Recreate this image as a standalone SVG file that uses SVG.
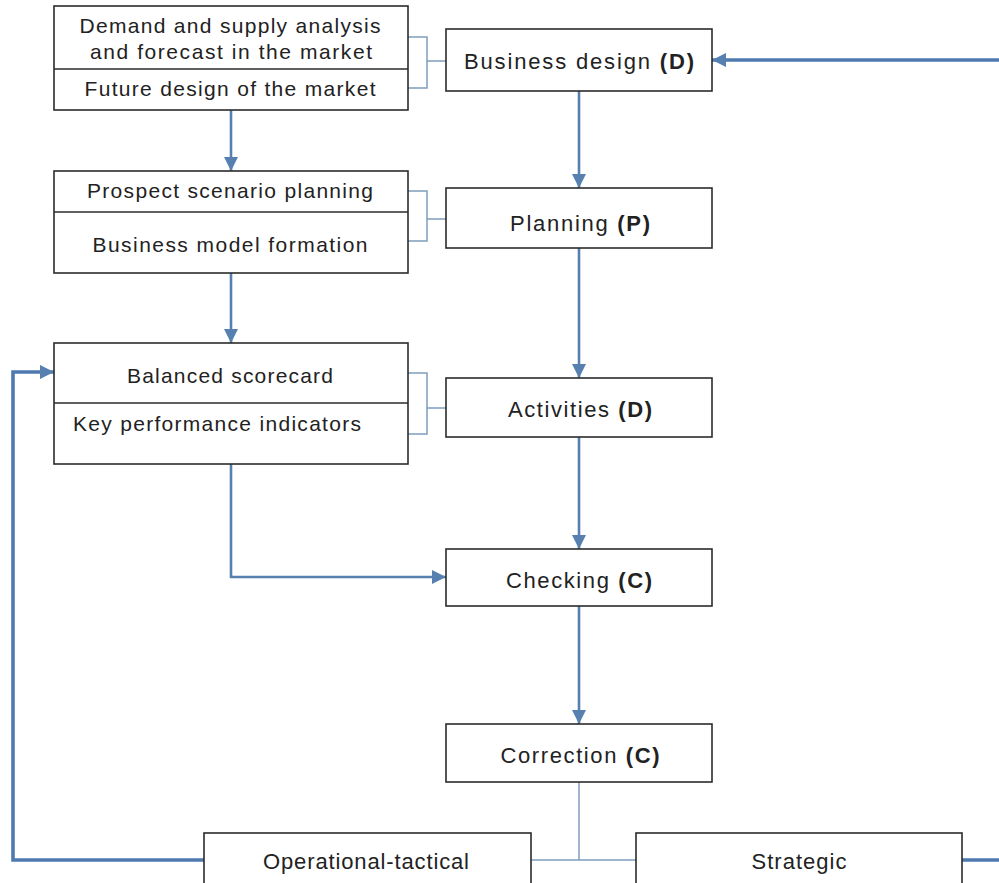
<svg xmlns="http://www.w3.org/2000/svg" width="999" height="883" viewBox="0 0 999 883">
<style>
.box{fill:#fff;stroke:#2b2b2b;stroke-width:1.6}
.div{stroke:#2b2b2b;stroke-width:1.6}
.t{font-family:"Liberation Sans",Arial,sans-serif;font-size:21px;fill:#222;text-anchor:middle}
.n{font-size:22px}
.b{font-weight:bold}
.arr{fill:none;stroke:#5580b0;stroke-width:2.6}
.fb{fill:none;stroke:#4f7ab0;stroke-width:3.6}
.thin{fill:none;stroke:#7e9dbd;stroke-width:1.5}
</style>
<defs>
<marker id="ah" markerUnits="userSpaceOnUse" markerWidth="16" markerHeight="16" refX="14" refY="8" orient="auto">
<path d="M0,1 L14,8 L0,15 z" fill="#5580b0"/>
</marker>
</defs>
<rect width="999" height="883" fill="#fff"/>
<g id="connectors">
<path class="arr" d="M231,110 V171" marker-end="url(#ah)"/>
<path class="arr" d="M231,273 V343" marker-end="url(#ah)"/>
<path class="arr" d="M231,464 V577 H446" marker-end="url(#ah)"/>
<path class="arr" d="M579,91 V188" marker-end="url(#ah)"/>
<path class="arr" d="M579,248 V378" marker-end="url(#ah)"/>
<path class="arr" d="M579,437 V549" marker-end="url(#ah)"/>
<path class="arr" d="M579,606 V724" marker-end="url(#ah)"/>
<path class="thin" d="M579,782 V860 M531,860 H636"/>
<path class="fb" d="M204,860 H13 V372 H54" marker-end="url(#ah)"/>
<path class="fb" d="M962,860 H1002 V60 H712" marker-end="url(#ah)"/>
<path class="thin" d="M408,37 H427 V88 H408 M427,61 H446"/>
<path class="thin" d="M408,191 H427 V241 H408 M427,219 H446"/>
<path class="thin" d="M408,373 H427 V434 H408 M427,408 H446"/>
</g>
<g id="market">
<rect class="box" x="54" y="6" width="354" height="104"/>
<line class="div" x1="54" y1="69" x2="408" y2="69"/>
<text class="t" x="230" y="33" textLength="301" lengthAdjust="spacing">Demand and supply analysis</text>
<text class="t" x="231" y="59" textLength="282" lengthAdjust="spacing">and forecast in the market</text>
<text class="t" x="230" y="96" textLength="291" lengthAdjust="spacing">Future design of the market</text>
</g>
<g id="scenario">
<rect class="box" x="54" y="171" width="354" height="102"/>
<line class="div" x1="54" y1="212" x2="408" y2="212"/>
<text class="t" x="230" y="198" textLength="286" lengthAdjust="spacing">Prospect scenario planning</text>
<text class="t" x="230" y="252" textLength="275" lengthAdjust="spacing">Business model formation</text>
</g>
<g id="scorecard">
<rect class="box" x="54" y="343" width="354" height="121"/>
<line class="div" x1="54" y1="403" x2="408" y2="403"/>
<text class="t" x="230" y="383" textLength="206" lengthAdjust="spacing">Balanced scorecard</text>
<text class="t" x="217" y="431" textLength="288" lengthAdjust="spacing">Key performance indicators</text>
</g>
<g id="business-design">
<rect class="box" x="446" y="29" width="266" height="62"/>
<text class="t n" x="579" y="69" textLength="230" lengthAdjust="spacing">Business design <tspan class="b">(D)</tspan></text>
</g>
<g id="planning">
<rect class="box" x="446" y="188" width="266" height="60"/>
<text class="t n" x="580" y="231" textLength="140" lengthAdjust="spacing">Planning <tspan class="b">(P)</tspan></text>
</g>
<g id="activities">
<rect class="box" x="446" y="378" width="266" height="59"/>
<text class="t n" x="580" y="417" textLength="144" lengthAdjust="spacing">Activities <tspan class="b">(D)</tspan></text>
</g>
<g id="checking">
<rect class="box" x="446" y="549" width="266" height="57"/>
<text class="t n" x="579" y="588" textLength="146" lengthAdjust="spacing">Checking <tspan class="b">(C)</tspan></text>
</g>
<g id="correction">
<rect class="box" x="446" y="724" width="266" height="58"/>
<text class="t n" x="580" y="763" textLength="159" lengthAdjust="spacing">Correction <tspan class="b">(C)</tspan></text>
</g>
<g id="operational">
<rect class="box" x="204" y="833" width="327" height="60"/>
<text class="t n" x="366" y="869" textLength="206" lengthAdjust="spacing">Operational-tactical</text>
</g>
<g id="strategic">
<rect class="box" x="636" y="833" width="326" height="60"/>
<text class="t n" x="799" y="869" textLength="95" lengthAdjust="spacing">Strategic</text>
</g>
</svg>
